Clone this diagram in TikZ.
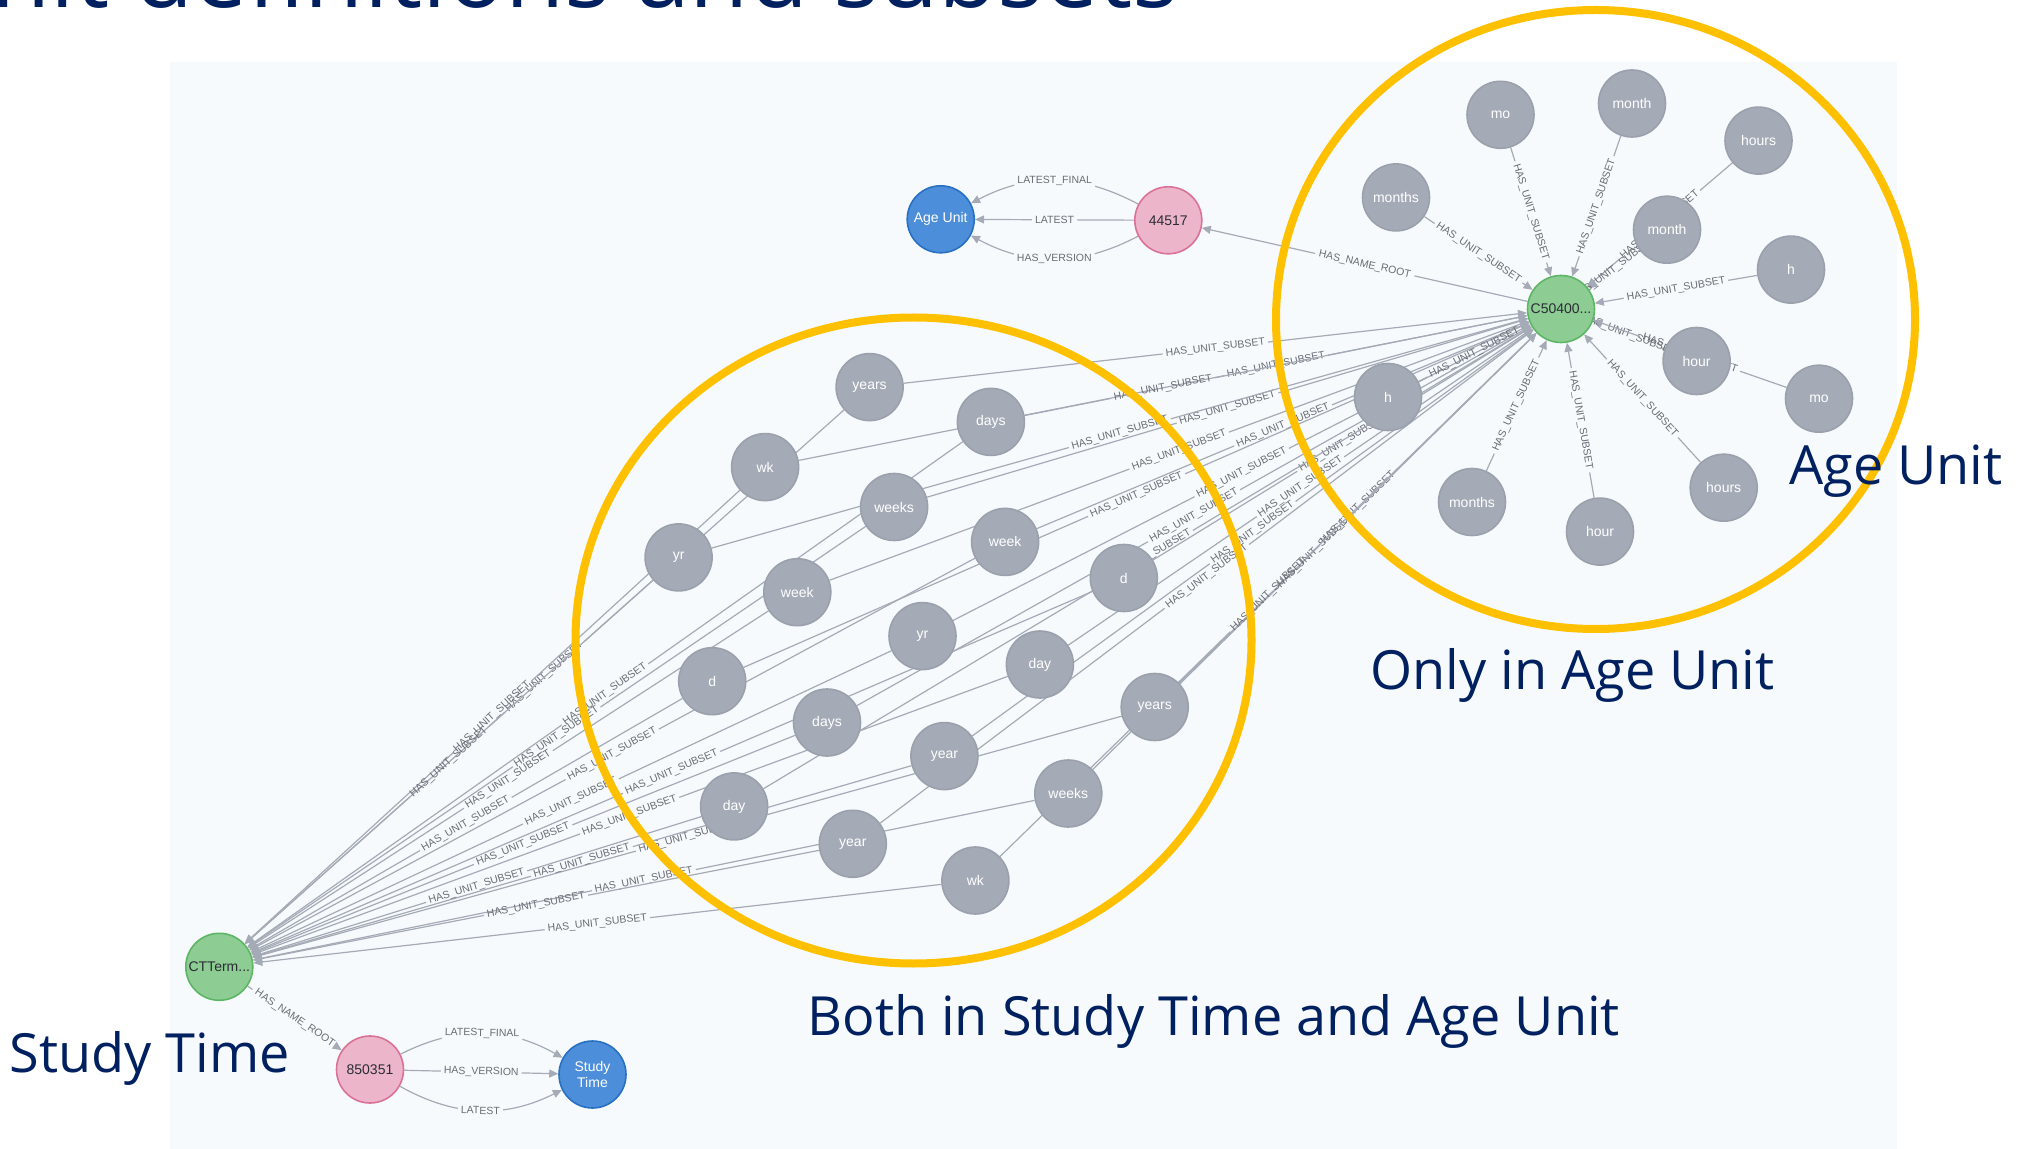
\documentclass[tikz,border=0pt]{standalone}
\usepackage{fontspec}
\setmainfont{Liberation Sans}
\newfontfamily\bigfont{Open Sans}
\usetikzlibrary{calc,arrows.meta}
\definecolor{panelc}{RGB}{247,250,252}
\definecolor{navy}{HTML}{002060}
\definecolor{ringc}{HTML}{FFC000}
\definecolor{edgec}{HTML}{A5ABB6}
\definecolor{labc}{RGB}{105,108,115}
\definecolor{grayf}{HTML}{A5ABB6}
\definecolor{grayb}{HTML}{9AA1AC}
\definecolor{greenf}{HTML}{8DCC93}
\definecolor{greenb}{HTML}{5DB665}
\definecolor{pinkf}{HTML}{ECB5C9}
\definecolor{pinkb}{HTML}{DA7298}
\definecolor{bluef}{HTML}{4C8EDA}
\definecolor{blueb}{HTML}{2870C2}
\definecolor{darkt}{HTML}{2A2C34}
\pgfdeclarelayer{panellayer}
\pgfdeclarelayer{edgelayer}
\pgfsetlayers{panellayer,edgelayer,main}
\tikzset{
  gnode/.style={circle, minimum size=33.5pt, inner sep=0pt, fill=grayf, draw=grayb,
    line width=0.8pt, text=white, font=\fontsize{7}{8}\selectfont},
  hubnode/.style={gnode, fill=greenf, draw=greenb, text=darkt},
  vnode/.style={gnode, fill=pinkf, draw=pinkb, text=darkt},
  cnode/.style={gnode, fill=bluef, draw=blueb, text=white, align=center,
    font=\fontsize{7}{6.5}\selectfont},
  edge/.style={draw=edgec, line width=0.6pt},
  arr/.style={-{Triangle[length=4.5pt,width=4pt]}},
  elabel/.style={font=\fontsize{5.25}{6}\selectfont, text=labc, inner sep=0pt},
  flabel/.style={elabel, fill=panelc, inner xsep=1.5pt, inner ysep=1pt},
  ring/.style={draw=ringc, line width=4pt},
  biglabel/.style={font=\bigfont\fontsize{27}{32}\selectfont, text=navy,
    inner sep=0pt, anchor=base west},
}
\newcommand\myrel[4]{%
  \draw[edge,shorten >=#4] (#1) -- ($(#1)!0.5!(#2)$);
  \draw[edge,arr,shorten <=#4] ($(#1)!0.5!(#2)$) -- (#2);
  \path (#1) -- node[elabel,sloped]{#3} (#2);
}
\begin{document}
\begin{tikzpicture}[x=0.5pt,y=-0.5pt]
\useasboundingbox (0,0) rectangle (2023,1149);
\begin{pgfonlayer}{panellayer}
  \fill[white] (0,0) rectangle (2023,1149);
  \fill[panelc] (170,62) rectangle (1897,1149);
\end{pgfonlayer}

% hubs and version nodes
\node[hubnode] (cfive) at (1561,309) {C50400...};
\node[hubnode] (ct) at (219.3,966.8) {CTTerm...};
\node[vnode] (v1) at (1168.3,220.3) {44517};
\node[cnode] (ageu) at (940.7,219.3) {Age Unit};
\node[vnode] (v2) at (370,1069.5) {850351};
\node[cnode] (stt) at (592.5,1074.5) {Study\\Time};

% nodes in both
\node[gnode] (b1) at (869.6,387.1) {years};
\node[gnode] (b2) at (990.9,421.9) {days};
\node[gnode] (b3) at (765.1,467.1) {wk};
\node[gnode] (b4) at (894.1,507.0) {weeks};
\node[gnode] (b5) at (678.6,557.4) {yr};
\node[gnode] (b6) at (1005.1,541.9) {week};
\node[gnode] (b7) at (797.3,592.2) {week};
\node[gnode] (b8) at (1123.8,578.0) {d};
\node[gnode] (b9) at (922.5,636.1) {yr};
\node[gnode] (b10) at (712.2,681.2) {d};
\node[gnode] (b11) at (1039.9,664.5) {day};
\node[gnode] (b12) at (827.0,722.5) {days};
\node[gnode] (b13) at (1154.7,707.0) {years};
\node[gnode] (b14) at (944.4,756.1) {year};
\node[gnode] (b15) at (734.1,806.4) {day};
\node[gnode] (b16) at (1068.3,793.5) {weeks};
\node[gnode] (b17) at (852.8,843.8) {year};
\node[gnode] (b18) at (975.4,880.5) {wk};

% nodes only in age unit
\node[gnode] (a1) at (1500.5,114.8) {mo};
\node[gnode] (a2) at (1632,103.5) {month};
\node[gnode] (a3) at (1758.5,140.6) {hours};
\node[gnode] (a4) at (1396,197.4) {months};
\node[gnode] (a5) at (1667,229.7) {month};
\node[gnode] (a6) at (1791,269.6) {h};
\node[gnode] (a7) at (1696.6,361) {hour};
\node[gnode] (a8) at (1819,398.7) {mo};
\node[gnode] (a9) at (1388,397) {h};
\node[gnode] (a10) at (1472,502) {months};
\node[gnode] (a11) at (1600,531.6) {hour};
\node[gnode] (a12) at (1723.7,487.7) {hours};

\begin{pgfonlayer}{edgelayer}
  \myrel{cfive}{v1}{HAS\_NAME\_ROOT}{25.5pt}
  \myrel{ct}{v2}{HAS\_NAME\_ROOT}{25.5pt}
  \draw[edge,arr] (v1) to[bend right=28] node[flabel,sloped]{LATEST\_FINAL} (ageu);
  \draw[edge,arr] (v1) -- node[flabel,sloped]{LATEST} (ageu);
  \draw[edge,arr] (v1) to[bend left=28] node[flabel,sloped]{HAS\_VERSION} (ageu);
  \draw[edge,arr] (v2) to[bend left=28] node[flabel,sloped]{LATEST\_FINAL} (stt);
  \draw[edge,arr] (v2) -- node[flabel,sloped]{HAS\_VERSION} (stt);
  \draw[edge,arr] (v2) to[bend right=28] node[flabel,sloped]{LATEST} (stt);
  \foreach \i in {1,...,18}{%
    \myrel{b\i}{ct}{HAS\_UNIT\_SUBSET}{26.5pt}
    \myrel{b\i}{cfive}{HAS\_UNIT\_SUBSET}{26.5pt}
  }
  \foreach \i/\g in {1/26.5pt,2/26.5pt,3/26.5pt,4/26.5pt,5/15pt,6/26.5pt,7/18pt,8/26.5pt,9/26.5pt,10/26.5pt,11/26.5pt,12/26.5pt}{%
    \myrel{a\i}{cfive}{HAS\_UNIT\_SUBSET}{\g}
  }
\end{pgfonlayer}

% highlight rings
\draw[ring] (913.5,640.5) ellipse [x radius=169pt, y radius=161.5pt];
\draw[ring] (1595.5,319.5) ellipse [x radius=159.75pt, y radius=154.75pt];

% texts
\node[biglabel, font=\bigfont\fontsize{48.3}{50}\selectfont] (title) at (-9,7.5) {nit definitions and subsets};
\node[biglabel] (lage) at (1789,485) {Age Unit};
\node[biglabel] (lonly) at (1370,689) {Only in Age Unit};
\node[biglabel] (lboth) at (807,1035) {Both in Study Time and Age Unit};
\node[biglabel] (lst) at (9,1072) {Study Time};
\end{tikzpicture}
\end{document}
